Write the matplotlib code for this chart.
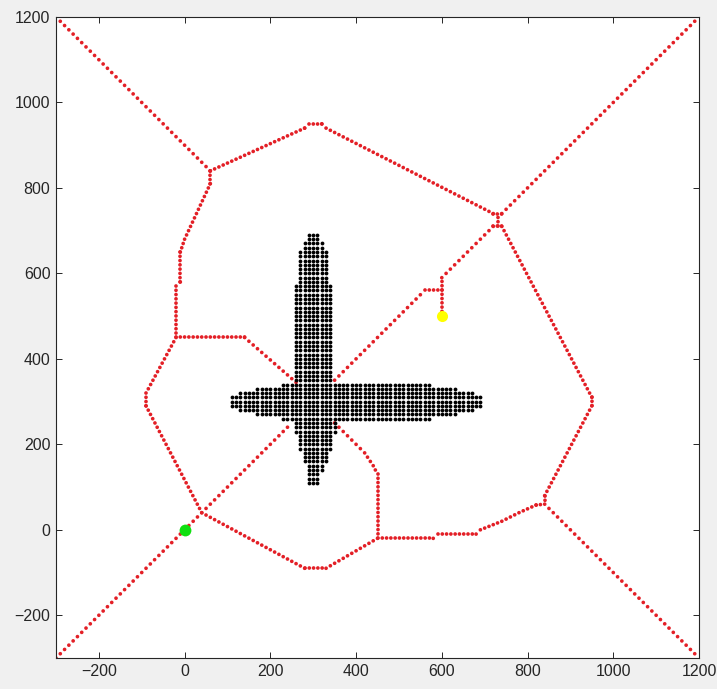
import numpy as np
import matplotlib
matplotlib.use("Agg")
import matplotlib.pyplot as plt

plt.rcParams['font.family'] = ['Liberation Sans', 'DejaVu Sans']
plt.rcParams['lines.scale_dashes'] = False

# start / goal
start_x, start_y = 0, 0
goal_x, goal_y = 600, 500

# red roadmap paths (vertices)
sw_x = [-300, 250]
sw_y = [-300, 250]
ne_x = [350, 560, 600, 600]
ne_y = [350, 560, 560, 510]
ne2_x = [600, 600, 720, 740]
ne2_y = [560, 590, 710, 710]
ne3_x = [720, 740, 1200]
ne3_y = [740, 740, 1200]
link_x = [730, 730]
link_y = [710, 740]
top_x = [60, 280, 290, 320, 330, 720]
top_y = [840, 940, 950, 950, 940, 740]
nw_x = [60, -300]
nw_y = [840, 1200]
left_up_x = [60, 60, 0, -10, -10, -20, -20]
left_up_y = [840, 810, 680, 650, 580, 570, 450]
loop_x = [-20, -90, -90, 40, 280, 330, 450]
loop_y = [450, 320, 290, 40, -90, -90, -20]
shelf_x = [-20, 140, 260]
shelf_y = [450, 450, 345]
bottom_x = [350, 420, 440, 450, 450, 580, 590, 680, 690, 740, 780, 820, 840]
bottom_y = [250, 180, 150, 130, -20, -20, -10, -10, 0, 20, 40, 58, 60]
right_x = [740, 950, 950, 840, 840]
right_y = [710, 310, 290, 80, 60]
se_x = [840, 1200]
se_y = [60, -300]

paths = [(sw_x, sw_y), (ne_x, ne_y), (ne2_x, ne2_y), (ne3_x, ne3_y),
         (link_x, link_y), (top_x, top_y), (nw_x, nw_y),
         (left_up_x, left_up_y), (loop_x, loop_y), (shelf_x, shelf_y),
         (bottom_x, bottom_y), (right_x, right_y), (se_x, se_y)]

# black obstacle (cross) as blocks of grid cells: rows y_lo..y_hi, cols x_lo..x_hi
cross_y_lo = [680, 660, 640, 580, 350, 260, 270, 280, 290, 230, 190, 160, 140, 110]
cross_y_hi = [690, 670, 650, 630, 570, 340, 330, 320, 310, 250, 220, 180, 150, 130]
cross_x_lo = [290, 280, 270, 270, 260, 230, 170, 130, 110, 260, 270, 280, 290, 290]
cross_x_hi = [310, 320, 330, 330, 340, 570, 630, 670, 690, 350, 340, 330, 320, 310]

step = 10
x_lim = (-300, 1200)
y_lim = (-300, 1200)
ticks = list(range(-200, 1201, 200))

fig = plt.figure(figsize=(7.17, 6.89), dpi=100, facecolor='#f0f0f0')
ax = fig.add_axes([56 / 717, 31 / 689, 643 / 717, 641 / 689])
ax.set_facecolor('white')

# pixels per data unit, used to put one dot per grid step along each segment
sx = 643 / (x_lim[1] - x_lim[0])
sy = 641 / (y_lim[1] - y_lim[0])
red = '#e31f26'

for px, py in paths:
    for i in range(len(px) - 1):
        dx = px[i + 1] - px[i]
        dy = py[i + 1] - py[i]
        n = max(abs(dx), abs(dy)) / step
        if n == 0:
            continue
        gap = np.hypot(dx * sx, dy * sy) / n * 0.72  # px -> pt
        ax.plot(px[i:i + 2], py[i:i + 2], color=red, lw=2.7,
                dashes=(0.01, gap - 0.01), dash_capstyle='round', zorder=2)

# obstacle dots
cx, cy = [], []
for y0, y1, x0, x1 in zip(cross_y_lo, cross_y_hi, cross_x_lo, cross_x_hi):
    gx, gy = np.meshgrid(np.arange(x0, x1 + 1, step), np.arange(y0, y1 + 1, step))
    cx.extend(gx.ravel())
    cy.extend(gy.ravel())
pts = np.unique(np.column_stack([cx, cy]), axis=0)
ax.scatter(pts[:, 0], pts[:, 1], s=7.5, color='black', linewidths=0, zorder=3)

ax.plot(start_x, start_y, 'o', color='#10e010', ms=8.5, mec='none', zorder=4)
ax.plot(goal_x, goal_y, 'o', color='#ffff00', ms=8, mec='none', zorder=4)

ax.set_xlim(*x_lim)
ax.set_ylim(*y_lim)
ax.set_xticks(ticks)
ax.set_yticks(ticks)
ax.tick_params(direction='in', length=4.3, width=0.7, top=True, right=True,
               colors='#262626', labelsize=11.5, pad=4)
for sp in ax.spines.values():
    sp.set_color('#262626')
    sp.set_linewidth(0.8)

fig.savefig('out.png', dpi=100, facecolor=fig.get_facecolor())
